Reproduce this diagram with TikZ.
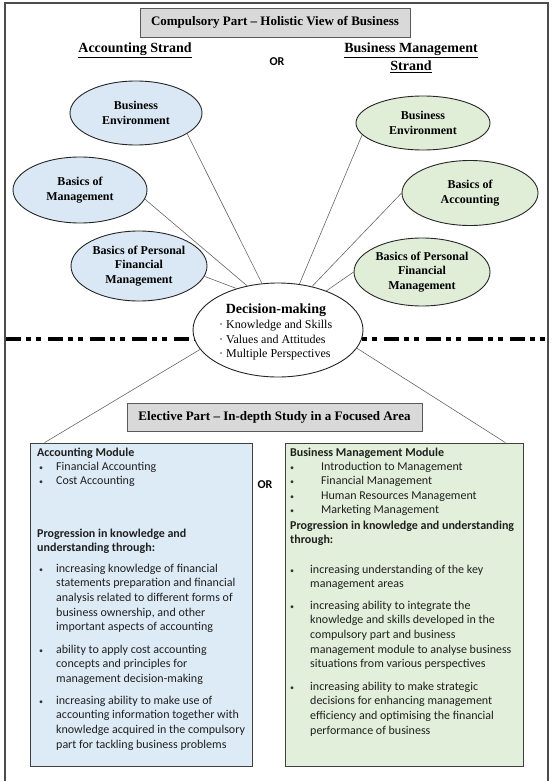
\documentclass[tikz,border=0pt]{standalone}
\usepackage{fontspec}
\setmainfont{Liberation Serif}
\newfontfamily\calfont{Carlito}
\usetikzlibrary{shapes.geometric,shadows}
\definecolor{ellblue}{HTML}{DAE8F5}
\definecolor{ellgreen}{HTML}{E0EED8}
\definecolor{boxblue}{HTML}{DDEBF7}
\definecolor{boxgreen}{HTML}{E2EFDA}
\definecolor{titlegray}{HTML}{D9D9D9}
\begin{document}
\begin{tikzpicture}[x=1pt,y=-1pt,
  oval/.style={ellipse, draw=black!85, line width=0.9pt, inner sep=0pt, align=center,
    font=\fontsize{12}{14.5}\selectfont\bfseries},
  blueoval/.style={oval, fill=ellblue},
  greenoval/.style={oval, fill=ellgreen},
  link/.style={draw=black!60, line width=0.6pt},
  titlebox/.style={draw=black!65, fill=titlegray, line width=0.8pt, inner sep=0pt,
    font=\fontsize{13}{15}\selectfont\bfseries,
    drop shadow={shadow xshift=1.3pt, shadow yshift=-1.3pt, fill=black!60, opacity=0.8}},
  modbox/.style={draw=black!75, line width=0.8pt, inner sep=0pt,
    drop shadow={shadow xshift=1.3pt, shadow yshift=-1.3pt, fill=black!60, opacity=0.8}},
  txt/.style={anchor=base west, inner sep=0pt, text=black!88,
    font=\calfont\fontsize{12}{14.7}\selectfont},
  hdr/.style={txt, font=\calfont\bfseries\fontsize{12}{14.7}\selectfont},
  bul/.style={anchor=base west, inner sep=0pt, text=black!80,
    font=\calfont\fontsize{8}{10}\selectfont},
  dmtxt/.style={anchor=base west, inner sep=0pt, font=\fontsize{12}{14.5}\selectfont},
  strand/.style={inner sep=0pt, align=center, font=\fontsize{14}{18}\selectfont\bfseries},
  ortxt/.style={inner sep=0pt, font=\calfont\bfseries\fontsize{12}{14}\selectfont}
]
\useasboundingbox (0,0) rectangle (554,781);
% outer frame
\draw[draw=black!70, line width=1.2pt] (5,781) -- (5,3) -- (548,3) -- (548,781);
% dash-dot separator
\draw[line width=4.5pt, dash pattern=on 15pt off 5pt on 5pt off 5pt on 5pt off 7pt] (6,339) -- (547,339);

% title and strands
\node[titlebox, minimum width=270pt, minimum height=29pt] (title) at (275,22.5) {Compulsory Part -- Holistic View of Business};
\node[strand] (accstrand) at (135,50) {\underline{Accounting Strand}};
\node[strand] (bmstrand) at (411,58) {\underline{Business Management}\\\underline{Strand}};
\node[ortxt] (or1) at (277,62) {OR};

% decision-making ellipse (shape only, for link anchors)
\node[oval, fill=white, minimum width=170pt, minimum height=94pt] (dm) at (278,330) {};

% module boxes
\node[modbox, fill=boxblue, minimum width=222pt, minimum height=323pt] (accbox) at (141,604.5) {};
\node[modbox, fill=boxgreen, minimum width=238pt, minimum height=323pt] (bmbox) at (404,604.5) {};

% ellipses
\node[blueoval, minimum width=132pt, minimum height=64pt] (be1) at (136,113) {Business\\Environment};
\node[blueoval, minimum width=134pt, minimum height=66pt] (bm1) at (80,190) {Basics of\\Management};
\node[blueoval, minimum width=136pt, minimum height=70pt] (bp1) at (139,266) {Basics of Personal\\Financial\\Management};
\node[greenoval, minimum width=134pt, minimum height=54pt] (be2) at (423,123) {Business\\Environment};
\node[greenoval, minimum width=136pt, minimum height=65pt] (ba2) at (470,193) {Basics of\\Accounting};
\node[greenoval, minimum width=136pt, minimum height=68pt] (bp2) at (422,272) {Basics of Personal\\Financial\\Management};

% links
\draw[link] (be1.-22) -- (dm.109);
\draw[link] (bm1.-8) -- (dm.125);
\draw[link] (bp1.-9) -- (dm.135);
\draw[link] (be2.191) -- (dm.65);
\draw[link] (ba2.180) -- (dm.52);
\draw[link] (bp2.180) -- (dm.39);
\draw[link] (dm.194) -- ([xshift=15pt]accbox.north west);
\draw[link] (dm.-13) -- ([xshift=-18pt]bmbox.north east);

% decision-making text
\node[anchor=base, inner sep=0pt, font=\fontsize{14}{16}\selectfont\bfseries] (dmtitle) at (276,313) {Decision-making};
\node[dmtxt] (dml1) at (219,328) {\textperiodcentered\ Knowledge and Skills};
\node[dmtxt] (dml2) at (219,343) {\textperiodcentered\ Values and Attitudes};
\node[dmtxt] (dml3) at (219,357) {\textperiodcentered\ Multiple Perspectives};

% elective title
\node[titlebox, minimum width=295pt, minimum height=28pt] (elective) at (274.5,417) {Elective Part -- In-depth Study in a Focused Area};
\node[ortxt] (or2) at (265,485) {OR};

% accounting module text
\node[hdr] (acch) at (37,456) {Accounting Module};
\node[bul] (accb1) at (39,470) {•};
\node[txt] (acci1) at (56,470) {Financial Accounting};
\node[bul] (accb2) at (39,484) {•};
\node[txt] (acci2) at (56,484) {Cost Accounting};
\node[hdr] (accp) at (37,537) {\parbox[t]{210pt}{Progression in knowledge and\\understanding through:}};
\node[bul] (accpb1) at (39,572) {•};
\node[txt] (accpi1) at (56,572) {\parbox[t]{195pt}{increasing knowledge of financial\\statements preparation and financial\\analysis related to different forms of\\business ownership, and other\\important aspects of accounting}};
\node[bul] (accpb2) at (39,653) {•};
\node[txt] (accpi2) at (56,653) {\parbox[t]{195pt}{ability to apply cost accounting\\concepts and principles for\\management decision-making}};
\node[bul] (accpb3) at (39,704) {•};
\node[txt] (accpi3) at (56,704) {\parbox[t]{195pt}{increasing ability to make use of\\accounting information together with\\knowledge acquired in the compulsory\\part for tackling business problems}};

% business management module text
\node[hdr] (bmh) at (290,456) {Business Management Module};
\node[bul] (bmb1) at (290,470) {•};
\node[txt] (bmi1) at (321,470) {Introduction to Management};
\node[bul] (bmb2) at (290,484) {•};
\node[txt] (bmi2) at (321,484) {Financial Management};
\node[bul] (bmb3) at (290,499) {•};
\node[txt] (bmi3) at (321,499) {Human Resources Management};
\node[bul] (bmb4) at (290,513) {•};
\node[txt] (bmi4) at (321,513) {Marketing Management};
\node[hdr] (bmp) at (290,529) {\parbox[t]{230pt}{Progression in knowledge and understanding\\through:}};
\node[bul] (bmpb1) at (290,573) {•};
\node[txt] (bmpi1) at (310,573) {\parbox[t]{210pt}{increasing understanding of the key\\management areas}};
\node[bul] (bmpb2) at (290,609) {•};
\node[txt] (bmpi2) at (310,609) {\parbox[t]{210pt}{increasing ability to integrate the\\knowledge and skills developed in the\\compulsory part and business\\management module to analyse business\\situations from various perspectives}};
\node[bul] (bmpb3) at (290,690) {•};
\node[txt] (bmpi3) at (310,690) {\parbox[t]{210pt}{increasing ability to make strategic\\decisions for enhancing management\\efficiency and optimising the financial\\performance of business}};
\end{tikzpicture}
\end{document}
